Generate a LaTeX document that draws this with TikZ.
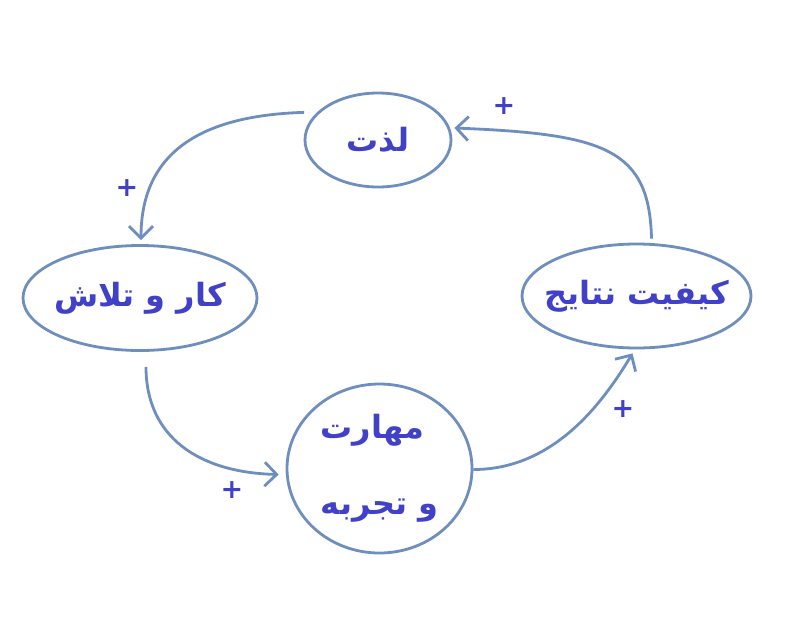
\documentclass[tikz,border=0pt]{standalone}
\usepackage{fontspec}
\setmainfont{DejaVu Sans}
\newfontfamily\persianfont[Script=Arabic]{DejaVu Sans}
\TeXXeTstate=1
\usetikzlibrary{shapes.geometric,arrows.meta}
\definecolor{linkblue}{RGB}{110,142,190}
\definecolor{textblue}{RGB}{64,64,200}

\begin{document}
\begin{tikzpicture}[x=1pt, y=-1pt,
  bubble/.style={ellipse, draw=linkblue, line width=2.8pt, inner sep=0pt},
  every label/.style={text=textblue, align=left, font=\persianfont\bfseries\fontsize{32}{40}\selectfont},
  link/.style={draw=linkblue, line width=2.8pt, -{Straight Barb[length=12pt,width=24pt]}},
  sign/.style={text=textblue, inner sep=0pt, font=\bfseries\fontsize{27}{27}\selectfont}]
\useasboundingbox (0,0) rectangle (794,638);
% --- Nodes of the loop ---
\node[bubble, minimum width=146pt, minimum height=94pt, label=center:{\beginR لذت\endR}] (Lzt) at (378,140) {};
\node[bubble, minimum width=234pt, minimum height=105pt, label=center:{\beginR کار و تلاش\endR}] (Kar) at (140,298) {};
\node[bubble, minimum width=229pt, minimum height=104pt, label=center:{\beginR کیفیت نتایج\endR}] (Kif) at (636.5,296) {};
\node[bubble, minimum width=185pt, minimum height=169pt, label=center:{\beginR مهارت\endR\\[36pt]\beginR و تجربه\endR}] (Mah) at (379.5,468.5) {};
% --- Curved arrows between nodes ---
\draw[link] ([xshift=-9pt,yshift=4pt]Lzt.160) .. controls +(-100,3) and +(0,-90) .. ([xshift=1pt,yshift=4pt]Kar.north);
\draw[link] ([xshift=6pt,yshift=-15pt]Kar.south) .. controls +(0,70) and +(-80,-2) .. ([xshift=-7pt,yshift=-6pt]Mah.west);
\draw[link] ([yshift=-1pt]Mah.east) .. controls +(80,0) and +(-30,50) .. ([xshift=-4pt,yshift=-4pt]Kif.south);
\draw[link] ([xshift=15pt,yshift=4pt]Kif.north) .. controls +(-2,-90) and +(150,6) .. ([xshift=2pt,yshift=12pt]Lzt.east);
% --- Signs on the arrows ---
\node[sign] (s1) at (127,188) {+};
\node[sign] (s2) at (232,490) {+};
\node[sign] (s3) at (623,409) {+};
\node[sign] (s4) at (504,106) {+};
\end{tikzpicture}
\end{document}
